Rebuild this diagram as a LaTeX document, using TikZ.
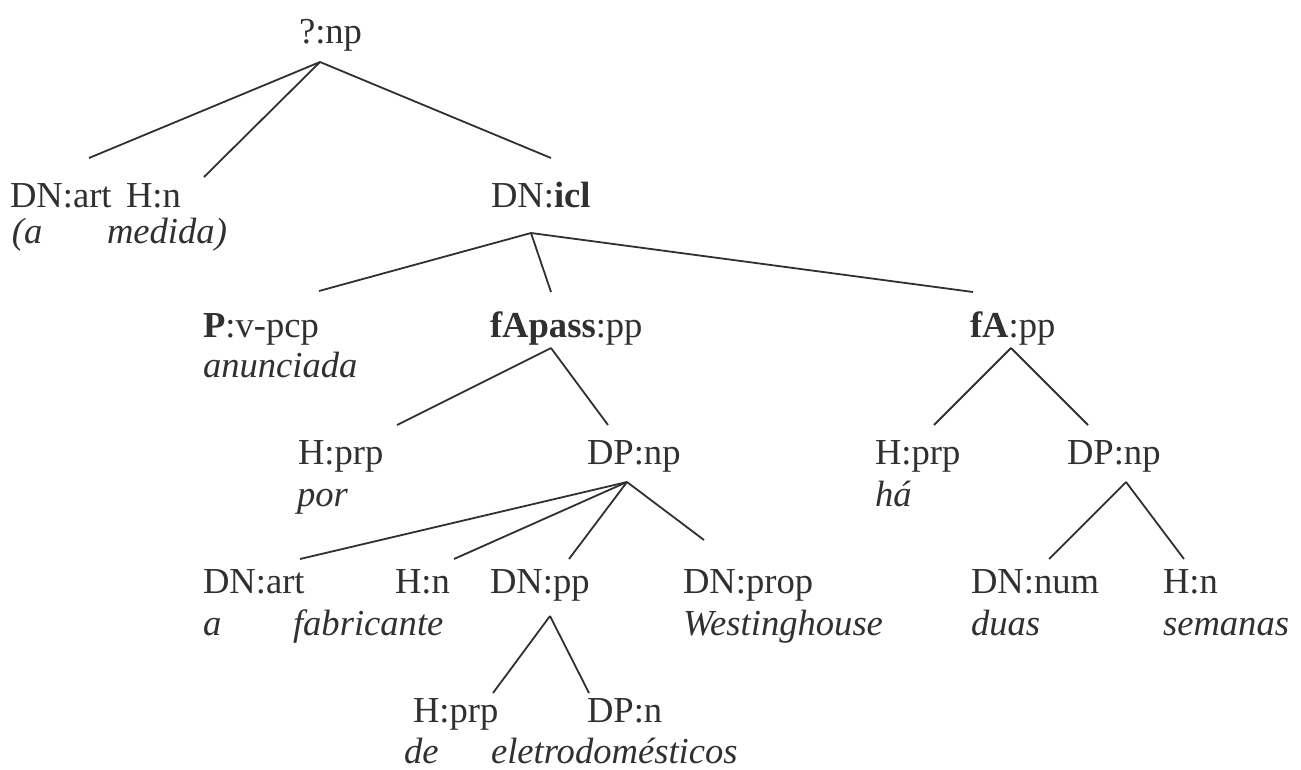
\documentclass[tikz,border=0pt]{standalone}
\usepackage{fontspec}
\setmainfont{Liberation Serif}
\usepackage{tikz}
\usetikzlibrary{positioning, calc}
\definecolor{TreeInk}{HTML}{303030}
\tikzset{
  % Node styles
  tagnode/.style={anchor=base west, inner sep=0pt, outer sep=0pt, text=TreeInk, font=\fontsize{36.6}{41}\selectfont},
  wordnode/.style={tagnode, font=\fontsize{36.6}{41}\selectfont\itshape},
  % Line styles
  branch/.style={line width=1.8pt, TreeInk}
}

\begin{document}
\begin{tikzpicture}[x=1pt, y=-1pt]
  \useasboundingbox (0,0) rectangle (1301,769);

  % Top level
  \node[tagnode] (qnp) at (299,43) {?:np};
  \node[tagnode] (dnart1) at (10,207) {DN:art};
  \node[tagnode] (hn1) at (126,207) {H:n};
  \node[tagnode] (dnicl) at (491,207) {DN:\textbf{icl}};
  \node[wordnode] (wa1) at (12,243) {(a};
  \node[wordnode] (wmedida) at (107,243) {medida)};

  % Clause level
  \node[tagnode] (pvpcp) at (203,337) {\textbf{P}:v-pcp};
  \node[wordnode] (wanunciada) at (203,377) {anunciada};
  \node[tagnode] (fapass) at (490,337) {\textbf{fApass}:pp};
  \node[tagnode] (fapp) at (970,337) {\textbf{fA}:pp};

  % Prepositional phrases
  \node[tagnode] (hprp1) at (298,464) {H:prp};
  \node[wordnode] (wpor) at (297,506) {por};
  \node[tagnode] (dpnp1) at (587,464) {DP:np};
  \node[tagnode] (hprp2) at (875,464) {H:prp};
  \node[wordnode] (wha) at (875,506) {há};
  \node[tagnode] (dpnp2) at (1067,464) {DP:np};

  % Noun phrases
  \node[tagnode] (dnart2) at (203,593) {DN:art};
  \node[wordnode] (wa2) at (203,635) {a};
  \node[tagnode] (hn2) at (395,593) {H:n};
  \node[wordnode] (wfabricante) at (293,635) {fabricante};
  \node[tagnode] (dnpp) at (490,593) {DN:pp};
  \node[tagnode] (dnprop) at (683,593) {DN:prop};
  \node[wordnode] (wwestinghouse) at (683,635) {Westinghouse};
  \node[tagnode] (dnnum) at (971,593) {DN:num};
  \node[wordnode] (wduas) at (971,635) {duas};
  \node[tagnode] (hn3) at (1163,593) {H:n};
  \node[wordnode] (wsemanas) at (1163,635) {semanas};

  % Bottom level
  \node[tagnode] (hprp3) at (413,722) {H:prp};
  \node[wordnode] (wde) at (404,763) {de};
  \node[tagnode] (dpn) at (587,722) {DP:n};
  \node[wordnode] (weletro) at (491,763) {eletrodomésticos};

  % Branches
  \draw[branch] ([shift={(21,19)}]qnp.base west) -- ([shift={(79,-49)}]dnart1.base west);
  \draw[branch] ([shift={(21,19)}]qnp.base west) -- ([shift={(78,-30)}]hn1.base west);
  \draw[branch] ([shift={(21,19)}]qnp.base west) -- ([shift={(60,-49)}]dnicl.base west);

  \draw[branch] ([shift={(40,26)}]dnicl.base west) -- ([shift={(116,-46)}]pvpcp.base west);
  \draw[branch] ([shift={(40,26)}]dnicl.base west) -- ([shift={(61,-45)}]fapass.base west);
  \draw[branch] ([shift={(40,26)}]dnicl.base west) -- ([shift={(3,-45)}]fapp.base west);

  \draw[branch] ([shift={(61,11)}]fapass.base west) -- ([shift={(99,-39)}]hprp1.base west);
  \draw[branch] ([shift={(61,11)}]fapass.base west) -- ([shift={(21,-39)}]dpnp1.base west);
  \draw[branch] ([shift={(41,11)}]fapp.base west) -- ([shift={(59,-39)}]hprp2.base west);
  \draw[branch] ([shift={(41,11)}]fapp.base west) -- ([shift={(21,-39)}]dpnp2.base west);

  \draw[branch] ([shift={(40,18)}]dpnp1.base west) -- ([shift={(97,-34)}]dnart2.base west);
  \draw[branch] ([shift={(40,18)}]dpnp1.base west) -- ([shift={(59,-34)}]hn2.base west);
  \draw[branch] ([shift={(40,18)}]dpnp1.base west) -- ([shift={(79,-34)}]dnpp.base west);
  \draw[branch] ([shift={(40,18)}]dpnp1.base west) -- ([shift={(21,-53)}]dnprop.base west);
  \draw[branch] ([shift={(59,18)}]dpnp2.base west) -- ([shift={(78,-34)}]dnnum.base west);
  \draw[branch] ([shift={(59,18)}]dpnp2.base west) -- ([shift={(21,-34)}]hn3.base west);

  \draw[branch] ([shift={(60,23)}]dnpp.base west) -- ([shift={(80,-29)}]hprp3.base west);
  \draw[branch] ([shift={(60,23)}]dnpp.base west) -- ([shift={(2,-29)}]dpn.base west);
\end{tikzpicture}
\end{document}
